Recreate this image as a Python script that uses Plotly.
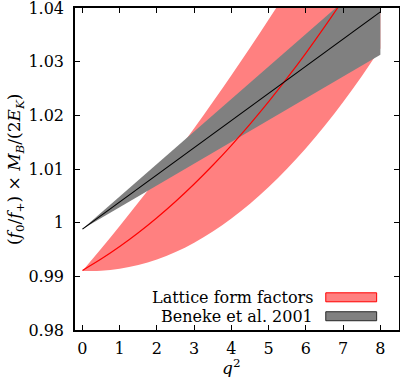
import plotly.graph_objects as go

# q^2 grid and values
q2 = [0, 0.5, 1, 1.5, 2, 2.5, 3, 3.5, 4, 4.5, 5, 5.5, 6, 6.5, 7, 7.5, 8]

lattice_central = [0.99110, 0.99321, 0.99555, 0.99812, 1.00092, 1.00395, 1.00721, 1.01070,
                   1.01442, 1.01837, 1.02255, 1.02696, 1.03160, 1.03647, 1.04157, 1.04690, 1.05246]
lattice_upper = [0.99100, 0.99512, 0.99937, 1.00374, 1.00824, 1.01286, 1.01761, 1.02248,
                 1.02748, 1.03260, 1.03785, 1.04322, 1.04872, 1.05434, 1.06009, 1.06596, 1.07196]
lattice_lower = [0.99100, 0.99102, 0.99139, 0.99209, 0.99314, 0.99453, 0.99627, 0.99834,
                 1.00076, 1.00352, 1.00663, 1.01007, 1.01386, 1.01799, 1.02247, 1.02728, 1.03244]

beneke_central = [0.99880, 1.00133, 1.00386, 1.00639, 1.00892, 1.01145, 1.01398, 1.01651,
                  1.01904, 1.02157, 1.02410, 1.02663, 1.02916, 1.03169, 1.03422, 1.03675, 1.03928]
beneke_upper = [0.99880, 1.00183, 1.00486, 1.00789, 1.01092, 1.01395, 1.01698, 1.02001,
                1.02304, 1.02607, 1.02910, 1.03213, 1.03516, 1.03819, 1.04122, 1.04425, 1.04728]
beneke_lower = [0.99880, 1.00083, 1.00286, 1.00489, 1.00692, 1.00895, 1.01098, 1.01301,
                1.01504, 1.01707, 1.01910, 1.02113, 1.02316, 1.02519, 1.02722, 1.02925, 1.03128]

x_ticks = [0, 1, 2, 3, 4, 5, 6, 7, 8]
y_ticks = [0.98, 0.99, 1.0, 1.01, 1.02, 1.03, 1.04]
y_tick_labels = ["0.98", "0.99", "1", "1.01", "1.02", "1.03", "1.04"]
legend_labels = ["Lattice form factors", "Beneke et al. 2001"]
x_title = "<i>q</i><sup>2</sup>"
y_title = ("(<i>f</i><sub>0</sub>/<i>f</i><sub>+</sub>) × <i>M</i><sub><i>B</i></sub>"
           "/(2<i>E</i><sub><i>K</i></sub>)")

RED_FILL = "rgb(255,128,128)"
GRAY_FILL = "rgb(128,128,128)"
FONT = "DejaVu Serif"

fig = go.Figure()

# Lattice band
fig.add_trace(go.Scatter(x=q2, y=lattice_upper, mode="lines", line=dict(width=0, shape="spline"),
                         showlegend=False, hoverinfo="skip"))
fig.add_trace(go.Scatter(x=q2, y=lattice_lower, mode="lines", line=dict(width=0, shape="spline"),
                         fill="tonexty", fillcolor=RED_FILL, showlegend=False, hoverinfo="skip"))
# Beneke band
fig.add_trace(go.Scatter(x=q2, y=beneke_upper, mode="lines", line=dict(width=0),
                         showlegend=False, hoverinfo="skip"))
fig.add_trace(go.Scatter(x=q2, y=beneke_lower, mode="lines", line=dict(width=0),
                         fill="tonexty", fillcolor=GRAY_FILL, showlegend=False, hoverinfo="skip"))
# Central lines
fig.add_trace(go.Scatter(x=q2, y=lattice_central, mode="lines",
                         line=dict(color="rgb(255,0,0)", width=1.2, shape="spline"), showlegend=False))
fig.add_trace(go.Scatter(x=q2, y=beneke_central, mode="lines",
                         line=dict(color="black", width=1.2), showlegend=False))

# Manual legend (text on the left, swatch on the right, as in the original)
legend_rows = [(0.0876, 0.1155, RED_FILL, "rgb(255,0,0)"), (0.0288, 0.0567, GRAY_FILL, "rgb(40,40,40)")]
for (y0, y1, fc, lc), label in zip(legend_rows, legend_labels):
    fig.add_shape(type="rect", xref="paper", yref="paper", x0=0.774, x1=0.931, y0=y0, y1=y1,
                  fillcolor=fc, line=dict(color=lc, width=1))
    fig.add_annotation(xref="paper", yref="paper", x=0.740, y=(y0 + y1) / 2, text=label,
                       showarrow=False, xanchor="right", yanchor="middle",
                       font=dict(family=FONT, size=16, color="black"))

# Axis titles as annotations for exact placement
fig.add_annotation(xref="paper", yref="paper", x=0.48, y=-0.076, text=x_title, showarrow=False,
                   xanchor="center", yanchor="top", font=dict(family=FONT, size=17, color="black"))
fig.add_annotation(xref="paper", yref="paper", x=-0.185, y=0.5, text=y_title, showarrow=False,
                   textangle=-90, xanchor="center", yanchor="middle",
                   font=dict(family=FONT, size=17, color="black"))

axis_common = dict(showline=True, linecolor="black", linewidth=1.5, mirror="allticks",
                   ticks="inside", ticklen=5, tickwidth=1, tickcolor="black",
                   showgrid=False, zeroline=False, automargin=False,
                   ticklabeloverflow="allow",
                   tickfont=dict(family=FONT, size=16, color="black"))

fig.update_xaxes(range=[-0.2, 8.5], tickvals=x_ticks, ticklabelstandoff=3, **axis_common)
fig.update_yaxes(range=[0.98, 1.04], tickvals=y_ticks, ticktext=y_tick_labels,
                 ticklabelstandoff=6, **axis_common)

fig.update_layout(width=400, height=377, margin=dict(l=75, r=1, t=8, b=47),
                  plot_bgcolor="white", paper_bgcolor="white",
                  font=dict(family=FONT, color="black"))

# Remove the default 8px page margin so the figure fills the window exactly
fig.write_html("out.html", config={"displayModeBar": False},
               post_script="document.body.style.margin='0px';")
